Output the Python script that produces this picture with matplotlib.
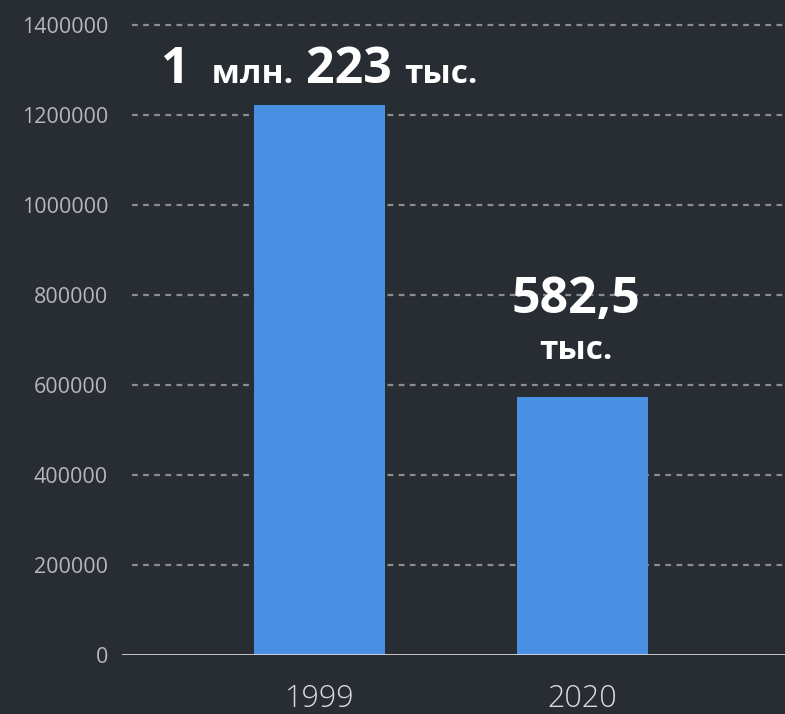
import matplotlib
matplotlib.use('Agg')
import matplotlib.pyplot as plt
from matplotlib.transforms import IdentityTransform

# ---- data ----
years = ['1999', '2020']
values = [1223000, 573000]
yticks = [0, 200000, 400000, 600000, 800000, 1000000, 1200000, 1400000]
# annotation pieces: (text, big?) per line
label_1999 = [[('1 ', True), (' млн.', False), (' 223 ', True), ('тыс.', False)]]
label_2020 = [[('582,5', True)], [('тыс.', False)]]

BG = '#282c33'
BAR = '#4a90e2'
GRID = '#8a8d92'
TICK = '#b5b7ba'

fig = plt.figure(figsize=(7.85, 7.14), dpi=100, facecolor=BG)
ax = fig.add_axes([122 / 785, 1 - 655 / 714, 1 - 122 / 785, (655 - 25) / 714])
ax.set_facecolor(BG)

x = list(range(len(years)))
ax.bar(x, values, width=0.5, color=BAR, zorder=3)

ax.set_xlim(-0.751, 1.77)
ax.set_ylim(0, 1400000)

for v in yticks[1:]:
    ax.axhline(v, xmin=0.015, xmax=1, color=GRID, lw=1.6, ls=(0, (2.6, 2.4)), zorder=1, clip_on=False)
ax.axhline(0, color='#d6d7d9', lw=2, zorder=4)

ax.set_yticks(yticks)
ax.set_yticklabels([str(v) for v in yticks], family='Open Sans', fontsize=15.5, color=TICK)
ax.set_xticks(x)
ax.set_xticklabels(years, family='Open Sans', fontweight='light', fontsize=22, color='#dadbdd')
ax.tick_params(axis='y', length=0, pad=10)
ax.tick_params(axis='x', length=0, pad=20)
for s in ax.spines.values():
    s.set_visible(False)

# ---- value labels ----
fig.canvas.draw()
r = fig.canvas.get_renderer()
BIG, SMALL = 36, 24


def place_line(pieces, xc, yb):
    texts = []
    for s, big in pieces:
        t = fig.text(0, 0, s, fontsize=BIG if big else SMALL, fontweight='bold', color='white',
                     family='Open Sans', va='baseline', ha='left', transform=IdentityTransform())
        texts.append(t)
    widths = [t.get_window_extent(r).width for t in texts]
    xs = xc - sum(widths) / 2
    for t, w in zip(texts, widths):
        t.set_position((xs, yb))
        xs += w


def place_label(i, lines, gap, line_step, dx=0):
    xc, ytop = ax.transData.transform((x[i], values[i]))
    yb = ytop + gap
    for line in reversed(lines):
        place_line(line, xc + dx, yb)
        yb += line_step


place_label(0, label_1999, 22, 0)
place_label(1, label_2020, 38, 46, dx=-7)

fig.savefig('out.png', dpi=100, facecolor=BG)
